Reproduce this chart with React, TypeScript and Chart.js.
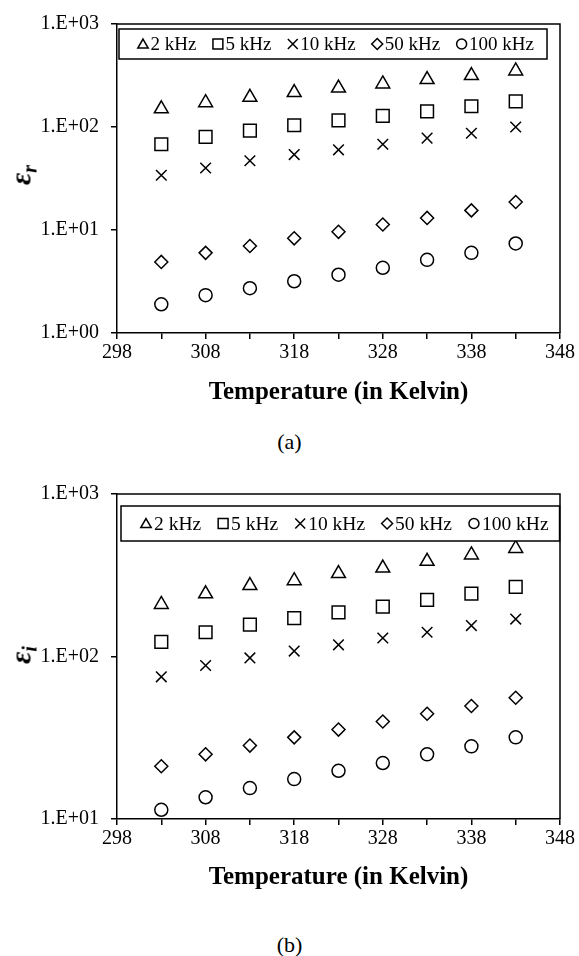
import React, { useEffect, useRef } from 'react';
import { Chart, registerables } from 'chart.js';
import { drawPoint } from 'chart.js/helpers';

Chart.register(...registerables);

// ---------- data ----------
const temperatures = [303, 308, 313, 318, 323, 328, 333, 338, 343];
const seriesLabels = ['2 kHz', '5 kHz', '10 kHz', '50 kHz', '100 kHz'];

// (a) real permittivity
const realA_2k = [150, 172, 194, 216, 239, 262, 289, 316, 350];
const realA_5k = [68, 80, 92, 104, 116, 128, 142, 159, 177];
const realA_10k = [34, 40, 47, 54, 60, 68, 78, 87, 100];
const realA_50k = [4.9, 6.0, 7.0, 8.3, 9.6, 11.3, 13.1, 15.5, 18.7];
const realA_100k = [1.9, 2.33, 2.72, 3.18, 3.68, 4.3, 5.13, 6.0, 7.4];

// (b) imaginary permittivity
const imagB_2k = [209, 243, 273, 293, 324, 350, 385, 422, 462];
const imagB_5k = [123, 141, 157, 172, 187, 203, 223, 244, 268];
const imagB_10k = [75, 88, 98, 108, 118, 130, 141, 155, 170];
const imagB_50k = [21.1, 25, 28.3, 31.8, 35.5, 39.8, 44.4, 49.6, 55.7];
const imagB_100k = [11.4, 13.6, 15.5, 17.6, 19.8, 22.1, 25, 28, 31.8];

const xTickValues = [298, 308, 318, 328, 338, 348];
const xTickLabels = ['298', '308', '318', '328', '338', '348'];
const yTickValuesA = [1, 10, 100, 1000];
const yTickLabelsA = ['1.E+00', '1.E+01', '1.E+02', '1.E+03'];
const yTickValuesB = [10, 100, 1000];
const yTickLabelsB = ['1.E+01', '1.E+02', '1.E+03'];

const xAxisTitle = 'Temperature (in Kelvin)';

// ---------- styles ----------
const FONT = '"Liberation Serif", "Times New Roman", serif';
const pointStyles = ['triangle', 'rect', 'crossRot', 'rectRot', 'circle'];
const pointRadii = [8, 9, 7.5, 6.5, 6.5];
const legendRadii: Record<string, number> = {
  triangle: 6,
  rect: 7,
  crossRot: 7,
  rectRot: 5.5,
  circle: 5,
};

const boxLegendPlugin = {
  id: 'boxLegend',
  afterDatasetsDraw(chart: any, _args: any, opts: any) {
    const ctx = chart.ctx;
    const ca = chart.chartArea;
    ctx.save();
    ctx.font = `${opts.fontSize}px ${FONT}`;
    const items = chart.data.datasets.map((ds: any) => ({
      label: ds.label,
      style: ds.pointStyle,
      w: ctx.measureText(ds.label).width,
    }));
    let contentW = 0;
    items.forEach((it: any, i: number) => {
      contentW += it.w + opts.textGap;
      if (i < items.length - 1) contentW += opts.itemGap;
    });
    const left = ca.left + opts.left;
    const top = ca.top + opts.top;
    const boxW = opts.padLeft + contentW + opts.padRight;
    const h = opts.height;
    ctx.fillStyle = '#fff';
    ctx.fillRect(left, top, boxW, h);
    ctx.lineWidth = 1.5;
    ctx.strokeStyle = '#000';
    ctx.strokeRect(left, top, boxW, h);
    const cy = top + h / 2;
    let x = left + opts.padLeft;
    items.forEach((it: any) => {
      ctx.fillStyle = '#fff';
      ctx.strokeStyle = '#000';
      ctx.lineWidth = 1.5;
      drawPoint(
        ctx,
        { pointStyle: it.style, rotation: 0, radius: legendRadii[it.style] || 5, borderWidth: 1.5 } as any,
        x,
        it.style === 'triangle' ? cy + 1 : cy
      );
      ctx.fillStyle = '#000';
      ctx.textBaseline = 'middle';
      ctx.textAlign = 'left';
      ctx.fillText(it.label, x + opts.textGap, cy + 1);
      x += opts.textGap + it.w + opts.itemGap;
    });
    ctx.restore();
  },
};

const framePlugin = {
  id: 'plotFrame',
  afterDraw(chart: any) {
    const { ctx, chartArea: ca } = chart;
    ctx.save();
    ctx.strokeStyle = '#000';
    ctx.lineWidth = 1.5;
    ctx.beginPath();
    ctx.moveTo(ca.left, ca.top);
    ctx.lineTo(ca.right, ca.top);
    ctx.lineTo(ca.right, ca.bottom);
    ctx.stroke();
    ctx.restore();
  },
};

function buildConfig(
  seriesValues: number[][],
  yMin: number,
  yMax: number,
  yVals: number[],
  yLabels: string[],
  layout: { padTop: number; xHeight: number; titlePadBottom: number },
  legendOpts: any
): any {
  const datasets = seriesValues.map((vals, i) => ({
    label: seriesLabels[i],
    data: temperatures.map((t, j) => ({ x: t, y: vals[j] })),
    pointStyle: pointStyles[i],
    pointRadius: pointRadii[i],
    pointHoverRadius: pointRadii[i],
    pointBorderColor: '#000',
    pointBackgroundColor: 'rgba(255,255,255,0)',
    pointBorderWidth: 1.5,
    showLine: false,
  }));
  return {
    type: 'scatter',
    data: { datasets },
    plugins: [boxLegendPlugin, framePlugin],
    options: {
      responsive: false,
      animation: false,
      devicePixelRatio: 1,
      layout: { padding: { left: 0, right: 19, top: layout.padTop, bottom: 0 } },
      plugins: {
        legend: { display: false },
        tooltip: { enabled: false },
        boxLegend: legendOpts,
      },
      scales: {
        x: {
          type: 'linear',
          min: 298,
          max: 348,
          ticks: {
            stepSize: 5,
            autoSkip: false,
            maxRotation: 0,
            padding: 2,
            color: '#000',
            font: { family: FONT, size: 20 },
            callback: (v: number) => {
              const i = xTickValues.indexOf(v);
              return i >= 0 ? xTickLabels[i] : '';
            },
          },
          grid: { drawOnChartArea: false, drawTicks: true, tickLength: 6, color: '#000', lineWidth: 1.5 },
          border: { display: true, color: '#000', width: 1.5 },
          title: {
            display: true,
            text: xAxisTitle,
            color: '#000',
            font: { family: FONT, size: 25, weight: 'bold', lineHeight: 1.2 },
            padding: { top: 0, bottom: layout.titlePadBottom },
          },
          afterFit: (s: any) => {
            s.height = layout.xHeight;
          },
        },
        y: {
          type: 'logarithmic',
          min: yMin,
          max: yMax,
          afterBuildTicks: (s: any) => {
            s.ticks = yVals.map((v) => ({ value: v }));
          },
          ticks: {
            padding: 12,
            color: '#000',
            font: { family: FONT, size: 20 },
            callback: (v: number) => {
              const i = yVals.indexOf(v);
              return i >= 0 ? yLabels[i] : '';
            },
          },
          grid: { drawOnChartArea: false, drawTicks: true, tickLength: 6, color: '#000', lineWidth: 1.5 },
          border: { display: true, color: '#000', width: 1.5 },
          afterFit: (s: any) => {
            s.width = 117;
          },
        },
      },
    },
  };
}

function YTitle({ sub, cy }: { sub: string; cy: number }) {
  return (
    <div
      style={{
        position: 'absolute',
        left: 22,
        top: cy,
        transform: 'translate(-50%, -50%) rotate(-90deg)',
        fontFamily: FONT,
        fontWeight: 'bold',
        fontStyle: 'italic',
        fontSize: 30,
        lineHeight: '30px',
        whiteSpace: 'nowrap',
        color: '#000',
      }}
    >
      ε<span style={{ fontSize: 20, position: 'relative', top: 6 }}>{sub}</span>
    </div>
  );
}

function Caption({ text, cy }: { text: string; cy: number }) {
  return (
    <div
      style={{
        position: 'absolute',
        left: 0,
        width: 579,
        top: cy - 13,
        textAlign: 'center',
        fontFamily: FONT,
        fontSize: 22,
        lineHeight: '26px',
        color: '#000',
      }}
    >
      {text}
    </div>
  );
}

export default function App() {
  const refA = useRef<HTMLCanvasElement>(null);
  const refB = useRef<HTMLCanvasElement>(null);

  useEffect(() => {
    const chartA = new Chart(
      refA.current as HTMLCanvasElement,
      buildConfig(
        [realA_2k, realA_5k, realA_10k, realA_50k, realA_100k],
        1,
        1000,
        yTickValuesA,
        yTickLabelsA,
        { padTop: 18, xHeight: 87, titlePadBottom: 12 },
        { left: 2, top: 5, height: 30, fontSize: 19, padLeft: 24, padRight: 13, textGap: 7.5, itemGap: 21.5 }
      )
    );
    const chartB = new Chart(
      refB.current as HTMLCanvasElement,
      buildConfig(
        [imagB_2k, imagB_5k, imagB_10k, imagB_50k, imagB_100k],
        10,
        1000,
        yTickValuesB,
        yTickLabelsB,
        { padTop: 21, xHeight: 91, titlePadBottom: 17 },
        { left: 4, top: 12, height: 35, fontSize: 19.5, padLeft: 25, padRight: 11, textGap: 8, itemGap: 22 }
      )
    );
    return () => {
      chartA.destroy();
      chartB.destroy();
    };
  }, []);

  return (
    <div style={{ position: 'absolute', left: 0, top: 0, width: 579, height: 956, background: '#fff' }}>
      <canvas ref={refA} width={579} height={420} style={{ position: 'absolute', left: 0, top: 0 }} />
      <canvas ref={refB} width={579} height={440} style={{ position: 'absolute', left: 0, top: 470 }} />
      <YTitle sub="r" cy={175} />
      <YTitle sub="i" cy={655} />
      <Caption text="(a)" cy={442} />
      <Caption text="(b)" cy={945} />
    </div>
  );
}
